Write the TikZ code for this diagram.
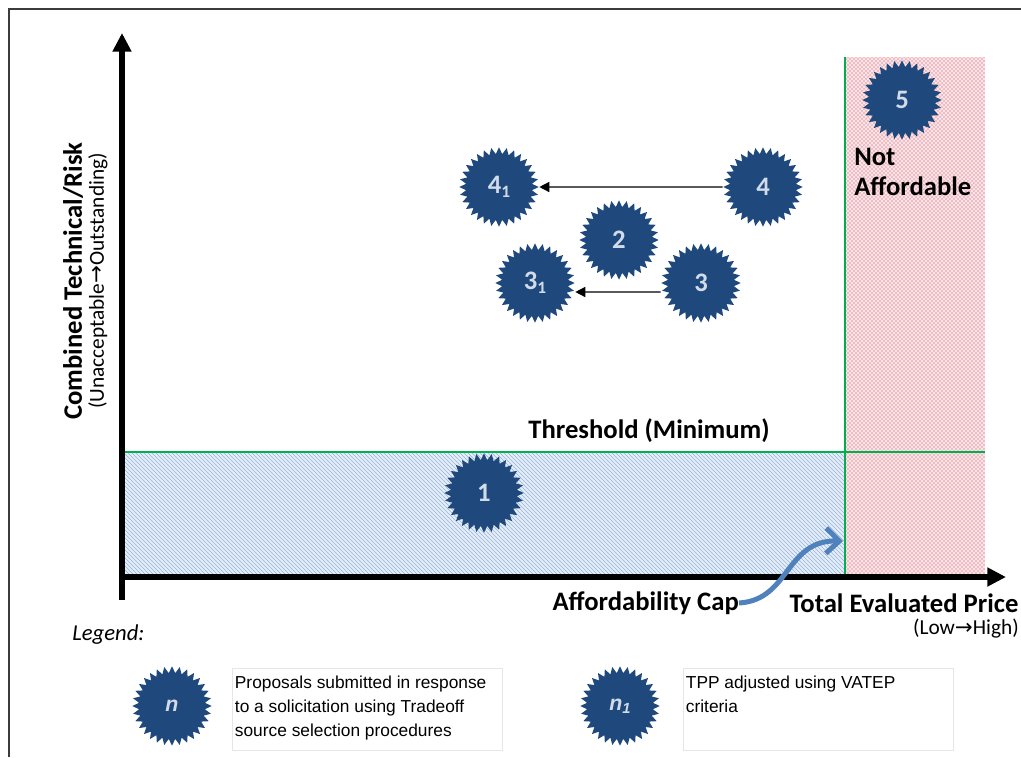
\documentclass[tikz,border=0pt]{standalone}
\usepackage{fontspec}
\setmainfont{Carlito}
\newfontfamily\arialf{Liberation Sans}
\newfontfamily\dvf{DejaVu Sans}
\usetikzlibrary{shapes.geometric,arrows.meta,patterns}
\definecolor{starblue}{RGB}{31,73,125}
\definecolor{startext}{RGB}{210,219,233}
\definecolor{gline}{RGB}{0,176,80}
\definecolor{capblue}{RGB}{79,129,189}
\definecolor{framegray}{RGB}{60,60,60}
\definecolor{bluebg}{RGB}{230,238,249}
\definecolor{bluehatch}{RGB}{150,180,218}
\definecolor{redbg}{RGB}{249,228,231}
\definecolor{reddot}{RGB}{218,60,80}
\definecolor{legline}{RGB}{230,230,230}
\begin{document}
\begin{tikzpicture}[x=0.75pt,y=-0.75pt,
 burst/.style={star, star points=32, star point ratio=1.2, minimum size=59.5pt, inner sep=0pt, fill=starblue, text=startext, font=\bfseries\fontsize{20}{20}\selectfont},
 legburst/.style={burst, font=\arialf\bfseries\itshape\fontsize{16}{16}\selectfont},
 conn/.style={draw=black, line width=1pt, -{Triangle[length=7.5pt,width=7.5pt]}},
 axis/.style={line width=4.2pt, -{Triangle[length=14pt,width=13.5pt]}},
 bigbold/.style={font=\bfseries\fontsize{20}{22}\selectfont, inner sep=0pt},
 subtxt/.style={font=\fontsize{16}{16}\selectfont, inner sep=0pt},
 legbox/.style={draw=legline, line width=0.75pt, minimum width=202.5pt, minimum height=61.5pt, inner sep=0pt, anchor=north west},
 legtext/.style={font=\arialf\fontsize{13}{18}\selectfont, align=left, anchor=north west, inner sep=0pt},
 gl/.style={draw=gline, line width=1.6pt},
]
\useasboundingbox (0,0) rectangle (1021,757);
\fill[white] (0,0) rectangle (1021,757);
% regions
\fill[bluebg] (122,452) rectangle (845,577);
\fill[pattern=north west lines, pattern color=bluehatch] (122,452) rectangle (845,577);
\fill[redbg] (845,57) rectangle (985,577);
\fill[pattern=crosshatch dots, pattern color=reddot] (845,57) rectangle (985,577);
\draw[gl] (122,452) -- (985,452);
\draw[gl] (845,57) -- (845,577);
% frame
\draw[framegray, line width=2pt] (9,757) -- (9,9) -- (1021,9);
% axes
\draw[axis] (122,600) -- (122,33);
\draw[axis] (119,577) -- (1006,577);
% stars
\node[burst] (s1) at (484,493) {1};
\node[burst] (s2) at (619,240) {2};
\node[burst] (s3) at (701,283) {3};
\node[burst] (s31) at (535,283) {3{\fontsize{13}{13}\selectfont\raisebox{-3pt}{1}}};
\node[burst] (s4) at (763,187) {4};
\node[burst] (s41) at (499,187) {4{\fontsize{13}{13}\selectfont\raisebox{-3pt}{1}}};
\node[burst] (s5) at (902,100) {5};
% connectors
\draw[conn] (s4) -- (s41);
\draw[conn] ([yshift=-6.75pt]s3.west) -- ([yshift=-6.75pt]s31.east);
% texts
\node[bigbold] (thr) at (649,431) {Threshold (Minimum)};
\node[bigbold, align=left, anchor=west] (na) at (854,172) {Not\\Affordable};
\node[bigbold, anchor=east] (cap) at (739,603) {Affordability Cap};
\node[bigbold] (tep) at (904,603) {Total Evaluated Price};
\node[subtxt, anchor=east] (lh) at (1019,629) {(Low{\dvf →}High)};
\node[bigbold, rotate=90] (ylab) at (73,281) {Combined Technical/Risk};
\node[subtxt, rotate=90] (ysub) at (98,281) {(Unacceptable{\dvf →}Outstanding)};
\node[font=\itshape\fontsize{17}{17}\selectfont, anchor=west, inner sep=0pt] (leg) at (72,635) {Legend:};
% affordability cap arrow
\coordinate (captip) at (843,541);
\draw[capblue, line width=3.75pt, -{Straight Barb[length=10pt,width=19pt]}] (cap.east) .. controls (790,600) and (785,540) .. (captip);
% legend
\node[legburst] (ln) at (172,706) {n};
\node[legburst] (ln1) at (620,706) {n{\fontsize{11}{11}\selectfont\raisebox{-2pt}{1}}};
\node[legbox] (lb1) at (232,668) {};
\node[legtext] (lt1) at ([shift={(2pt,-6pt)}]lb1.north west) {Proposals submitted in response\\to a solicitation using Tradeoff\\source selection procedures};
\node[legbox] (lb2) at (683,668) {};
\node[legtext] (lt2) at ([shift={(2pt,-6pt)}]lb2.north west) {TPP adjusted using VATEP\\criteria};
\end{tikzpicture}
\end{document}
